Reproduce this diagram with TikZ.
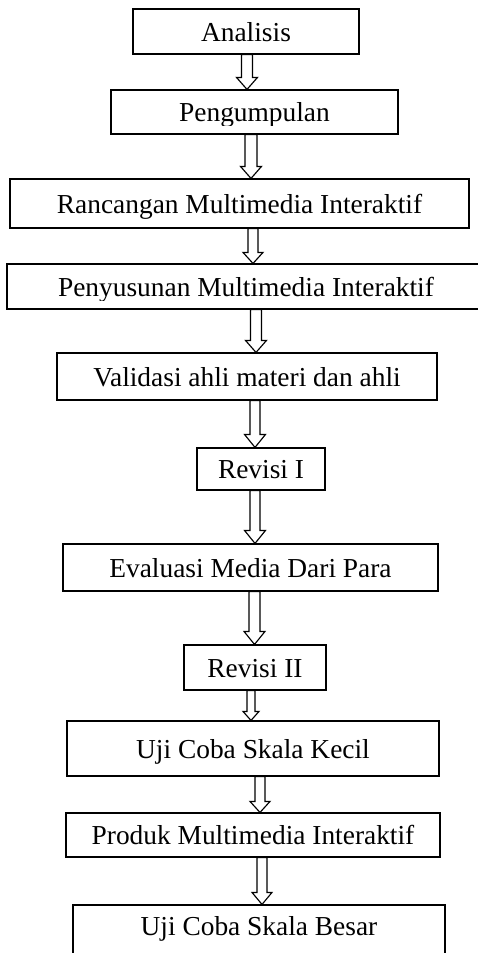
\documentclass[tikz,border=0pt]{standalone}
\usepackage{fontspec}
\setmainfont{Liberation Serif}
\usetikzlibrary{calc}
\newcommand{\pxl}{0.438pt}
\tikzset{
	box/.style={draw, line width=0.5pt, inner sep=0pt, text height=0.85em, text depth=0pt},
	hollow/.style args={#1/#2/#3}{line width=0.5pt, to path={let \p1=(\tikztostart), \p2=(\tikztotarget) in
		(\x1-#1*\pxl,\y1) -- (\x1-#1*\pxl,\y2+#3*\pxl) -- (\x1-#2*\pxl,\y2+#3*\pxl) -- (\x1,\y2)
		-- (\x1+#2*\pxl,\y2+#3*\pxl) -- (\x1+#1*\pxl,\y2+#3*\pxl) -- (\x1+#1*\pxl,\y1) -- cycle}}
}
\begin{document}
\begin{tikzpicture}[x=\pxl, y=-\pxl, font=\fontsize{12}{14}\selectfont]
		\useasboundingbox (0,0) rectangle (478,953);
		\node[box, minimum width=226*\pxl, minimum height=45*\pxl] (analisis) at (246,31.5) {Analisis};
		\node[box, minimum width=287*\pxl, minimum height=44*\pxl] (pengumpulan) at (254.5,112) {};
		\node[box, minimum width=459*\pxl, minimum height=49*\pxl] (rancangan) at (239.5,203.5) {Rancangan Multimedia Interaktif};
		\node[box, minimum width=478*\pxl, minimum height=45*\pxl] (penyusunan) at (246,286.5) {};
		\node[box, minimum width=380*\pxl, minimum height=47*\pxl] (validasi) at (247,376.5) {Validasi ahli materi dan ahli};
		\node[box, minimum width=128*\pxl, minimum height=42*\pxl] (revisisatu) at (261,469) {Revisi I};
		\node[box, minimum width=375*\pxl, minimum height=47*\pxl] (evaluasi) at (250.5,567.5) {Evaluasi Media Dari Para};
		\node[box, minimum width=142*\pxl, minimum height=45*\pxl] (revisidua) at (255,667.5) {Revisi II};
		\node[box, minimum width=372*\pxl, minimum height=55*\pxl] (ujikecil) at (253,748.5) {Uji Coba Skala Kecil};
		\node[box, minimum width=374*\pxl, minimum height=44*\pxl] (produk) at (253,835) {Produk Multimedia Interaktif};
		\node[box, minimum width=372*\pxl, minimum height=60*\pxl, text depth=0.85em] (ujibesar) at (259,935) {Uji Coba Skala Besar};

		\begin{scope}
			\clip (100,80) rectangle (410,125.5);
			\node[box, draw=none] (pengumpulantext) at (254.5,112) {Pengumpulan};
		\end{scope}
		\begin{scope}
			\clip (0,255) rectangle (478,300.5);
			\node[box, draw=none] (penyusunantext) at (246,286.5) {Penyusunan Multimedia Interaktif};
		\end{scope}

		\draw[hollow=5.5/10.5/12] (analisis.south -| 247,0) to (pengumpulan.north -| 247,0);
		\draw[hollow=6/10.5/12] (pengumpulan.south -| 251,0) to (rancangan.north -| 251,0);
		\draw[hollow=5/10/11] (rancangan.south -| 253,0) to (penyusunan.north -| 253,0);
		\draw[hollow=5.5/10.5/12] (penyusunan.south -| 256,0) to (validasi.north -| 256,0);
		\draw[hollow=5/10.5/13] (validasi.south -| 255,0) to (revisisatu.north -| 255,0);
		\draw[hollow=5/10.5/13] (revisisatu.south -| 255,0) to (evaluasi.north -| 255,0);
		\draw[hollow=5.5/10.5/13] (evaluasi.south -| 254.5,0) to (revisidua.north -| 254.5,0);
		\draw[hollow=4/8/9] (revisidua.south -| 251,0) to (ujikecil.north -| 251,0);
		\draw[hollow=5/10/11] (ujikecil.south -| 260,0) to (produk.north -| 260,0);
		\draw[hollow=5/10/12] (produk.south -| 262,0) to (ujibesar.north -| 262,0);
\end{tikzpicture}
\end{document}
